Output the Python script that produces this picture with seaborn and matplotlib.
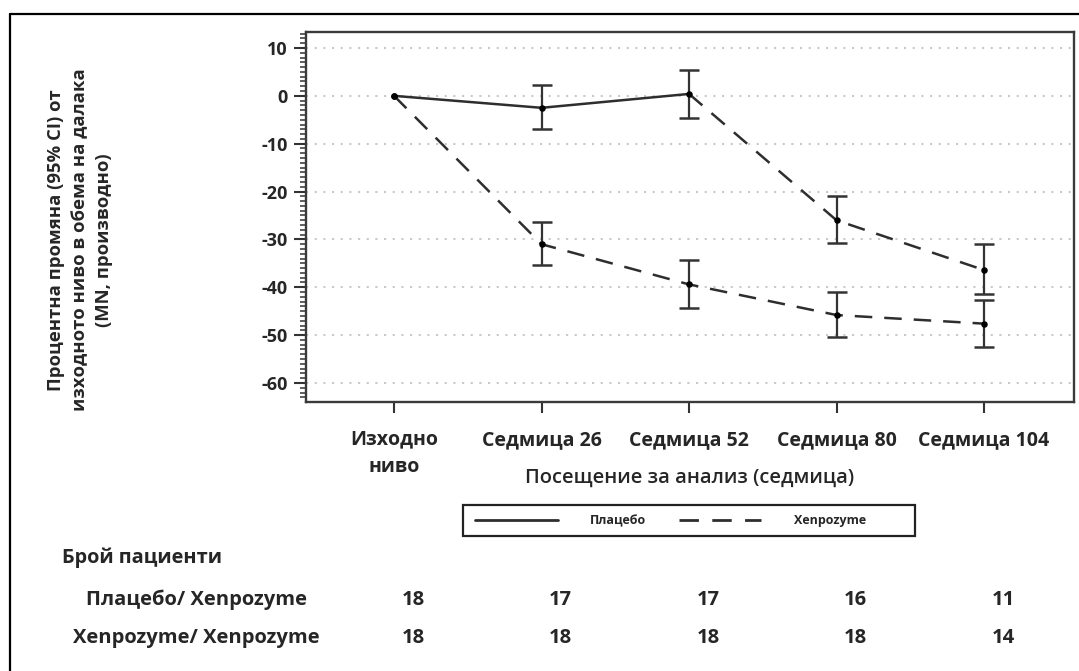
import numpy as np
import pandas as pd
import matplotlib
matplotlib.use("Agg")
import matplotlib.pyplot as plt
from matplotlib.lines import Line2D
from matplotlib.patches import Rectangle
from matplotlib.ticker import MultipleLocator
import matplotlib.transforms as mtrans
import seaborn as sns

# ---------------- data ----------------
visits = ["Изходно\nниво", "Седмица 26", "Седмица 52", "Седмица 80", "Седмица 104"]
placebo_mean = [0.0, -2.5, 0.4, -26.0, -36.4]
placebo_lo = [np.nan, -6.9, -4.6, -30.7, -41.3]
placebo_hi = [np.nan, 2.2, 5.5, -21.0, -31.0]
xen_mean = [0.0, -31.0, -39.4, -45.8, -47.6]
xen_lo = [np.nan, -35.3, -44.3, -50.3, -52.4]
xen_hi = [np.nan, -26.3, -34.4, -41.0, -42.6]
n_placebo = [18, 17, 17, 16, 11]
n_xen = [18, 18, 18, 18, 14]
row_labels = ["Плацебо/ Xenpozyme", "Xenpozyme/ Xenpozyme"]
legend_labels = ["Плацебо", "Xenpozyme"]
y_ticks = [10, 0, -10, -20, -30, -40, -50, -60]
switch_idx = 2  # placebo group switches to Xenpozyme after week 52

# ---------------- style ----------------
sns.set_theme(style="white")
plt.rcParams["font.family"] = ["Open Sans", "DejaVu Sans"]
plt.rcParams["font.weight"] = "bold"
plt.rcParams["axes.unicode_minus"] = False

W, H = 1079, 671
fig = plt.figure(figsize=(W / 100, H / 100), dpi=100)
fig.patch.set_facecolor("white")

def fx(px):
    return px / W

def fy(py):
    return 1 - py / H

ax = fig.add_axes([fx(306), fy(402), fx(1074) - fx(306), fy(32) - fy(402)])

pos = np.arange(len(visits))

# line segments (placebo: solid until switch, then dashed; xenpozyme: dashed)
rows = []
for i in range(0, switch_idx + 1):
    rows.append(dict(pos=pos[i], val=placebo_mean[i], seg="p1", trt=legend_labels[0]))
for i in range(switch_idx, len(visits)):
    rows.append(dict(pos=pos[i], val=placebo_mean[i], seg="p2", trt=legend_labels[1]))
for i in range(len(visits)):
    rows.append(dict(pos=pos[i], val=xen_mean[i], seg="x1", trt=legend_labels[1]))
df = pd.DataFrame(rows)

line_color = "#2e2e2e"
dash_pat = (7, 4.8)
sns.lineplot(data=df, x="pos", y="val", units="seg", estimator=None, style="trt",
             dashes={legend_labels[0]: "", legend_labels[1]: dash_pat},
             color=line_color, lw=1.8, legend=False, ax=ax, zorder=3)

# error bars
for mean, lo, hi in [(placebo_mean, placebo_lo, placebo_hi), (xen_mean, xen_lo, xen_hi)]:
    mean = np.array(mean); lo = np.array(lo); hi = np.array(hi)
    ok = ~np.isnan(lo)
    ax.errorbar(pos[ok], mean[ok], yerr=[mean[ok] - lo[ok], hi[ok] - mean[ok]],
                fmt="none", ecolor="#333333", elinewidth=1.6, capsize=7.2,
                capthick=1.8, zorder=4)

pts = pd.DataFrame({"pos": np.concatenate([pos, pos]),
                    "val": np.concatenate([placebo_mean, xen_mean])})
sns.scatterplot(data=pts, x="pos", y="val", color="black", s=22, edgecolor="black",
                linewidth=0, legend=False, ax=ax, zorder=5)

# axes cosmetics
ax.set_xlim(-0.597, 4.61)
ax.set_ylim(-63.97, 13.34)
ax.set_yticks(y_ticks)
ax.set_yticklabels([str(v) for v in y_ticks], fontsize=13, fontweight="bold")
ax.yaxis.set_minor_locator(MultipleLocator(1))
ax.set_xticks(pos)
ax.set_xticklabels(visits, fontsize=14, fontweight="bold", linespacing=1.5)
ax.tick_params(axis="y", which="major", direction="out", length=9, width=1.5,
               color="#333333", pad=4, left=True)
ax.tick_params(axis="y", which="minor", direction="out", length=4.3, width=1.1,
               color="#333333", left=True)
ax.tick_params(axis="x", which="major", direction="out", length=8, width=1.5,
               color="#333333", pad=12, bottom=True)
ax.grid(axis="y", which="major", color="#c4c4c4", linestyle=(0, (1.2, 3.6)), lw=1.3)
ax.grid(axis="x", visible=False)
for sp in ax.spines.values():
    sp.set_color("#3a3a3a")
    sp.set_linewidth(1.7)
    sp.set_visible(True)

ax.set_xlabel("Посещение за анализ (седмица)", fontsize=14.5, fontweight="semibold", va="center")
ax.xaxis.set_label_coords(0.5, -(478 - 402) / 370)
ax.set_ylabel("Процентна промяна (95% CI) от\nизходното ниво в обема на далака\n(MN, производно)",
              fontsize=13.3, fontweight="bold", linespacing=1.42, va="center", ha="center")
ax.yaxis.set_label_coords(-(306 - 80) / 768, (402 - 240) / 370)

# legend (content placed from the first handle; frame drawn to the reference box)
handles = [Line2D([], [], color=line_color, lw=2.0),
           Line2D([], [], color=line_color, lw=2.0, dashes=dash_pat)]
leg = fig.legend(handles, legend_labels, loc="center left", ncol=2,
                 bbox_to_anchor=(fx(475), fy(520.5)),
                 fontsize=9, frameon=False,
                 handlelength=6.6, handletextpad=2.6, columnspacing=2.6,
                 borderpad=0, borderaxespad=0)
for t in leg.get_texts():
    t.set_fontweight("bold")
fig.add_artist(Rectangle((fx(463), fy(536)), fx(915) - fx(463), fy(505) - fy(536),
                         transform=fig.transFigure, fill=False, edgecolor="#222222",
                         lw=1.6))

# patient numbers table
fig.text(fx(62), fy(558), "Брой пациенти", fontsize=14.3, fontweight="bold",
         ha="left", va="center")
blend = mtrans.blended_transform_factory(ax.transData, fig.transFigure)
for r, (lab, counts) in enumerate(zip(row_labels, [n_placebo, n_xen])):
    yy = fy(600 + 38 * r)
    fig.text(fx(196), yy, lab, fontsize=14.5, fontweight="bold", ha="center", va="center")
    for i, n in enumerate(counts):
        ax.text(pos[i] + 0.13, yy, str(n), transform=blend, fontsize=14.5,
                fontweight="bold", ha="center", va="center", clip_on=False)

# outer frame (top and left)
fig.add_artist(Line2D([fx(10), 1], [fy(14), fy(14)], color="black", lw=1.6,
                      transform=fig.transFigure))
fig.add_artist(Line2D([fx(10), fx(10)], [fy(14), 0], color="black", lw=1.6,
                      transform=fig.transFigure))

fig.savefig("out.png", dpi=100, facecolor="white")
